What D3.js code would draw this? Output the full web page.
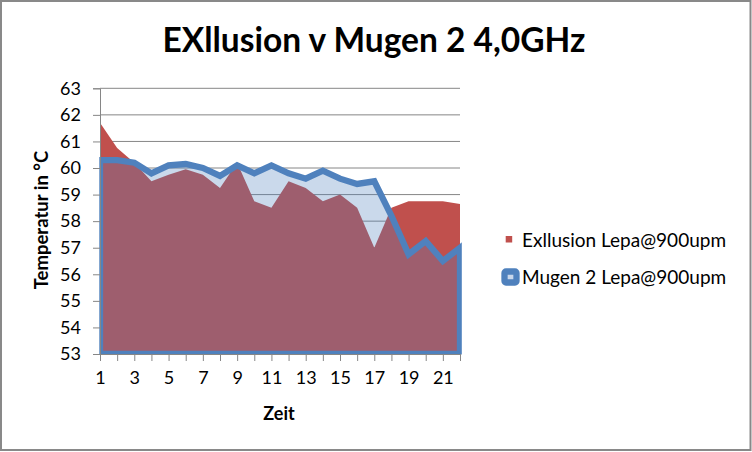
<!DOCTYPE html>
<html>
<head>
<meta charset="utf-8">
<script src="https://cdn.jsdelivr.net/npm/d3@7"></script>
<style>
html,body{margin:0;padding:0;background:#fff;}
svg{display:block;}
text{font-family:Lato,"Noto Sans",sans-serif;fill:#000;}
</style>
</head>
<body>
<svg id="chart" width="752" height="452"></svg>
<script>
const title = "EXllusion v Mugen 2 4,0GHz";
const xTitle = "Zeit";
const yTitle = "Temperatur in °C";
const categories = d3.range(1, 23);
const xTickLabels = [1, 3, 5, 7, 9, 11, 13, 15, 17, 19, 21];
const yTicks = [53, 54, 55, 56, 57, 58, 59, 60, 61, 62, 63];
const seriesNames = ["Exllusion Lepa@900upm", "Mugen 2 Lepa@900upm"];
const exllusion = [61.7, 60.75, 60.2, 59.5, 59.75, 59.95, 59.75, 59.25, 60.2, 58.75, 58.5, 59.5, 59.25, 58.75, 59.0, 58.5, 57.0, 58.5, 58.75, 58.75, 58.75, 58.65];
const mugen = [60.3, 60.3, 60.2, 59.8, 60.1, 60.15, 60.0, 59.7, 60.1, 59.8, 60.1, 59.8, 59.6, 59.9, 59.6, 59.4, 59.5, 58.2, 56.75, 57.25, 56.5, 57.0];

(function () {
const svg = d3.select("#chart");
const W = 752, H = 452;
const pL = 100, pR = 460, pT = 88.3, pB = 354;
const red = "#c0504d", blue = "#4f81bd", grid = "#868686";

svg.append("rect").attr("x", 1).attr("y", 1).attr("width", W - 2.5).attr("height", H - 3)
  .attr("fill", "#fff").attr("stroke", "#898989").attr("stroke-width", 2);

const x = d3.scalePoint().domain(categories).range([pL, pR]);
const y = d3.scaleLinear().domain([53, 63]).range([pB, pT]);

svg.append("g").selectAll("line").data(yTicks).join("line")
  .attr("x1", pL).attr("x2", pR)
  .attr("y1", d => y(d)).attr("y2", d => y(d))
  .attr("stroke", grid).attr("stroke-width", 1);

svg.append("defs").append("clipPath").attr("id", "clip")
  .append("rect").attr("x", pL - 0.7).attr("y", 0).attr("width", pR - pL + 2.5).attr("height", pB + 0.5);

const area = d3.area().x((d, i) => x(categories[i])).y0(y(53)).y1(d => y(d));

svg.append("path").datum(exllusion).attr("d", area).attr("fill", red);

const blueG = svg.append("g").attr("clip-path", "url(#clip)");
blueG.append("path").datum(mugen).attr("d", d => area(d) + "Z")
  .attr("fill", blue).attr("fill-opacity", 0.3)
  .attr("stroke", blue).attr("stroke-width", 6.3).attr("stroke-linejoin", "miter");

const yAxis = d3.axisLeft(y).tickValues(yTicks).tickSize(7).tickPadding(12).tickFormat(d3.format("d"));
const gy = svg.append("g").attr("transform", `translate(${pL},0)`).call(yAxis);
gy.select(".domain").attr("stroke", grid);
gy.selectAll(".tick line").attr("stroke", grid);
gy.selectAll(".tick text").style("font-size", "18px").attr("fill", "#000");

const xAxis = d3.axisBottom(x).tickSize(7).tickPadding(10)
  .tickFormat(d => xTickLabels.includes(d) ? d : "");
const gx = svg.append("g").attr("transform", `translate(0,${pB})`).call(xAxis);
gx.select(".domain").attr("stroke", grid).attr("d", `M${pL},0.5H${pR + 1}`);
gx.selectAll(".tick line").attr("stroke", grid);
gx.selectAll(".tick text").style("font-size", "18px").attr("fill", "#000");

svg.append("text").attr("x", 374).attr("y", 51.7).attr("text-anchor", "middle")
  .style("font-size", "33.5px").style("font-weight", "bold").text(title);
svg.append("text").attr("x", 279).attr("y", 420).attr("text-anchor", "middle")
  .style("font-size", "18px").style("font-weight", "bold").text(xTitle);
svg.append("text").attr("transform", "translate(47.5,220) rotate(-90)").attr("text-anchor", "middle")
  .style("font-size", "18.5px").style("font-weight", "bold").text(yTitle);

const lg = svg.append("g");
lg.append("rect").attr("x", 505.7).attr("y", 236).attr("width", 6.5).attr("height", 6.5).attr("fill", red);
lg.append("text").attr("x", 522).attr("y", 246.7).style("font-size", "19px").text(seriesNames[0]);
lg.append("rect").attr("x", 504.5).attr("y", 271.5).attr("width", 12).attr("height", 11).attr("rx", 1.5)
  .attr("fill", "#c9d7eb").attr("stroke", blue).attr("stroke-width", 6.3);
lg.append("text").attr("x", 522).attr("y", 284).style("font-size", "19px").text(seriesNames[1]);
})();
</script>
</body>
</html>
